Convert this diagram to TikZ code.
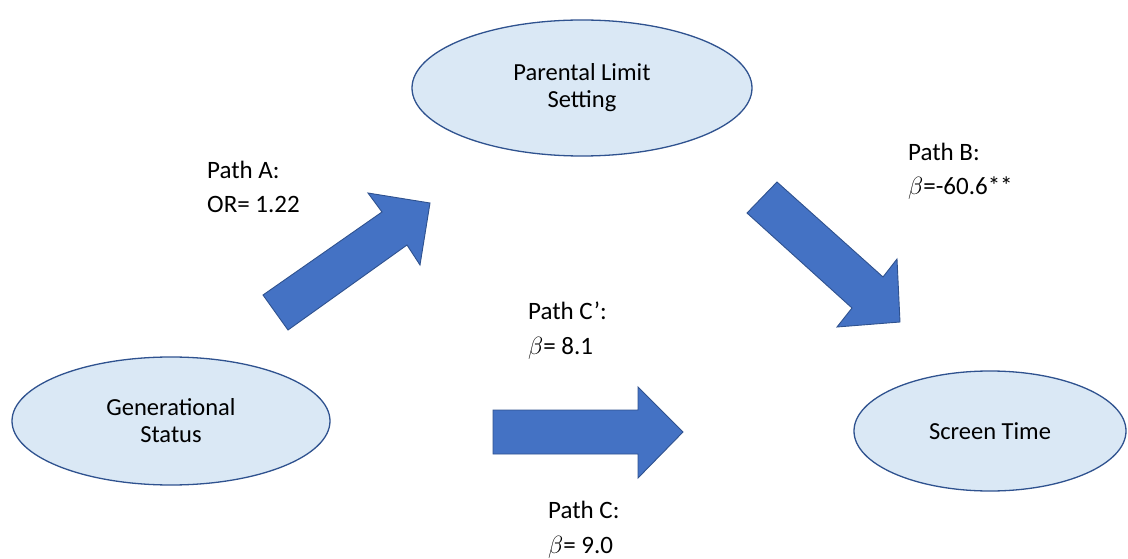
\documentclass[tikz,border=0pt]{standalone}
\usepackage{fontspec}
\setmainfont{Carlito}
\usetikzlibrary{shapes.geometric}
\definecolor{ellfill}{HTML}{DAE8F5}
\definecolor{ellline}{HTML}{2F528F}
\definecolor{arrfill}{HTML}{4472C4}
\definecolor{arrline}{HTML}{2F528F}
\tikzset{
  oval/.style={ellipse, draw=ellline, line width=1.3pt, fill=ellfill, inner sep=0pt,
    font=\fontsize{24.5}{27}\selectfont, align=center},
  blockarrow/.style={draw=arrline, line width=0.9pt, fill=arrfill, line join=miter},
  lbl/.style={anchor=base west, inner sep=0pt, font=\fontsize{25}{34.5}\selectfont, align=left}
}
\begin{document}
\begin{tikzpicture}[x=1pt,y=-1pt]
\useasboundingbox (0,0) rectangle (1128,559);
% ellipses
\node[oval, minimum width=340pt, minimum height=136pt] (pls) at (582,88) {Parental Limit\\Setting};
\node[oval, minimum width=318pt, minimum height=128pt] (gen) at (171,421) {Generational\\Status};
\node[oval, minimum width=272pt, minimum height=120pt] (scr) at (990,431) {Screen Time};
% block arrows
\draw[blockarrow] (263,295) -- (382,212) -- (368,193) -- (430,203) -- (420,265) -- (407,245) -- (288,330) -- cycle;
\draw[blockarrow] (777,182) -- (883,277) -- (897,259) -- (900,322) -- (837,327) -- (852,308) -- (747,213) -- cycle;
\draw[blockarrow] (493,410) -- (638,410) -- (638,387) -- (683,432) -- (638,478) -- (638,454) -- (493,454) -- cycle;
% labels (anchored at the baseline of the last line)
\node[lbl] (la) at (207,213) {Path A:\\OR= 1.22};
\node[lbl] (lb) at (908,195) {Path B:\\$\beta$=-60.6**};
\node[lbl] (lcp) at (528,354) {Path C’:\\$\beta$= 8.1};
\node[lbl] (lc) at (548,553) {Path C:\\$\beta$= 9.0};
\end{tikzpicture}
\end{document}
